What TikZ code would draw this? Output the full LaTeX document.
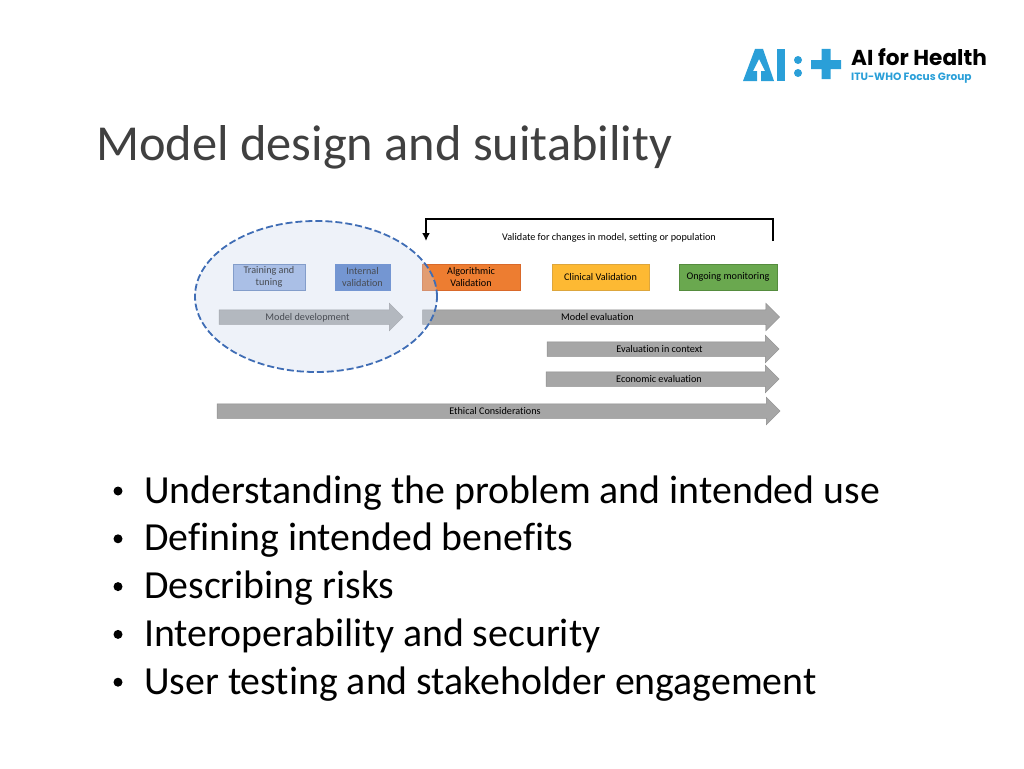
\documentclass[tikz,border=0pt]{standalone}
\usepackage{fontspec}
\setmainfont[Ligatures=NoCommon]{Carlito}
\newfontfamily\logofont{Poppins}
\usetikzlibrary{shapes, arrows.meta, positioning}
\definecolor{logoblue}{HTML}{2A9FD8}
\definecolor{zonefill}{HTML}{CEDAEE}
\definecolor{zonedash}{HTML}{3F6DB5}
\definecolor{arrowgray}{HTML}{A6A6A6}
\definecolor{trainfill}{HTML}{97B1E2}
\definecolor{trainedge}{HTML}{5B7DB8}
\definecolor{internalfill}{HTML}{4472C4}
\definecolor{algofill}{HTML}{ED7D31}
\definecolor{algoedge}{HTML}{D9692A}
\definecolor{clinicfill}{HTML}{FDB933}
\definecolor{clinicedge}{HTML}{DDA63C}
\definecolor{monitorfill}{HTML}{6AA84F}
\definecolor{monitoredge}{HTML}{558C3E}
\tikzstyle{block} = [draw, rectangle, line width=0.8pt, minimum height=26pt, align=center, font=\fontsize{10.2}{12.5}\selectfont, inner sep=0pt]
\tikzstyle{phase} = [draw=arrowgray!85!black, fill=arrowgray, line width=0.5pt, single arrow, single arrow head extend=6.5pt, single arrow head indent=0pt, text height=7pt, text depth=1pt, inner ysep=3pt, inner xsep=0pt, font=\fontsize{10.2}{12}\selectfont]
\tikzstyle{point} = [anchor=base west, font=\fontsize{39.8}{42}\selectfont, inner sep=0pt]
\newcommand{\dotmark}[1]{\fill (#1) ++(-26pt,12pt) circle (4.5pt);}

\begin{document}
\begin{tikzpicture}[x=1pt, y=1pt, auto, >={Latex[length=8pt,width=8pt]}]
    \useasboundingbox (0,0) rectangle (1024,-768);
    % logo
    \fill [logoblue] (743,-81) -- (755,-49) -- (763,-49) -- (774,-81) -- (761,-81) -- (761,-71) -- (765,-71) -- (759,-59) -- (753,-71) -- (757,-71) -- (757,-81) -- cycle;
    \fill [logoblue] (777,-49) rectangle (785,-81);
    \fill [logoblue] (798,-60) circle (4) (798,-73) circle (4);
    \fill [logoblue] (811,-60) rectangle (841,-69) (821.5,-49) rectangle (830.5,-79);
    \node [anchor=base west, inner sep=0pt, font=\logofont\bfseries\fontsize{21.6}{24}\selectfont] (brand) at (851,-66) {AI for Health};
    \node [anchor=base west, inner sep=0pt, text=logoblue, font=\logofont\bfseries\fontsize{10.6}{13}\selectfont] (group) at (851,-81) {ITU-WHO Focus Group};
    % title
    \node [anchor=base west, inner sep=0pt, text=black!75, font=\fontsize{50.4}{54}\selectfont] (title) at (96,-160) {Model design and suitability};
    % phases
    \node [block, fill=trainfill, draw=trainedge, minimum width=72pt] (training) at (269,-277) {Training and\\tuning};
    \node [block, fill=internalfill, draw=internalfill, minimum width=55pt, right of=training, node distance=93.5pt] (internal) {Internal\\validation};
    \node [block, fill=algofill, draw=algoedge, minimum width=98pt, right of=internal, node distance=108.5pt] (algorithmic) {Algorithmic\\Validation};
    \node [block, fill=clinicfill, draw=clinicedge, minimum width=97pt, right of=algorithmic, node distance=129.5pt] (clinical) {Clinical Validation};
    \node [block, fill=monitorfill, draw=monitoredge, minimum width=98pt, right of=clinical, node distance=127.5pt] (monitoring) {Ongoing monitoring};
    \node [anchor=base, font=\fontsize{10.2}{12}\selectfont, inner sep=0pt] (changes) at (609,-240) {Validate for changes in model, setting or population};
    \coordinate (loopstart) at (773,-241);
    \coordinate (loopend) at (426,-241);
    \draw [->, line width=1.6pt] (loopstart) -- (773,-219) -- (426,-219) -- (loopend);
    % arrows
    \node [phase, minimum height=184pt] (development) at (307.5,-317) {Model development};
    \node [phase, minimum height=357pt] (evaluation) at (597.5,-317) {Model evaluation};
    \node [phase, minimum height=232pt] (context) at (659.5,-349) {Evaluation in context};
    \node [phase, minimum height=233pt] (economic) at (659,-379) {Economic evaluation};
    \node [phase, minimum height=563pt] (ethical) at (495,-411) {Ethical Considerations};
    % model development zone
    \node [draw=none, fill=zonefill, fill opacity=0.35, ellipse, minimum width=242pt, minimum height=151pt, inner sep=0pt] (zone) at (316,-296.5) {};
    \draw [zonedash, line width=1.8pt, dash pattern=on 7pt off 3pt] (zone.center) ellipse (121 and 75.5);
    % bullets
    \node [point] (problem) at (144,-503) {Understanding the problem and intended use};
    \node [point, below=47.8pt of problem.base west, anchor=base west] (benefits) {Defining intended benefits};
    \node [point, below=47.8pt of benefits.base west, anchor=base west] (risks) {Describing risks};
    \node [point, below=47.8pt of risks.base west, anchor=base west] (security) {Interoperability and security};
    \node [point, below=47.8pt of security.base west, anchor=base west] (testing) {User testing and stakeholder engagement};
    \dotmark{problem.base west}
    \dotmark{benefits.base west}
    \dotmark{risks.base west}
    \dotmark{security.base west}
    \dotmark{testing.base west}
\end{tikzpicture}
\end{document}
